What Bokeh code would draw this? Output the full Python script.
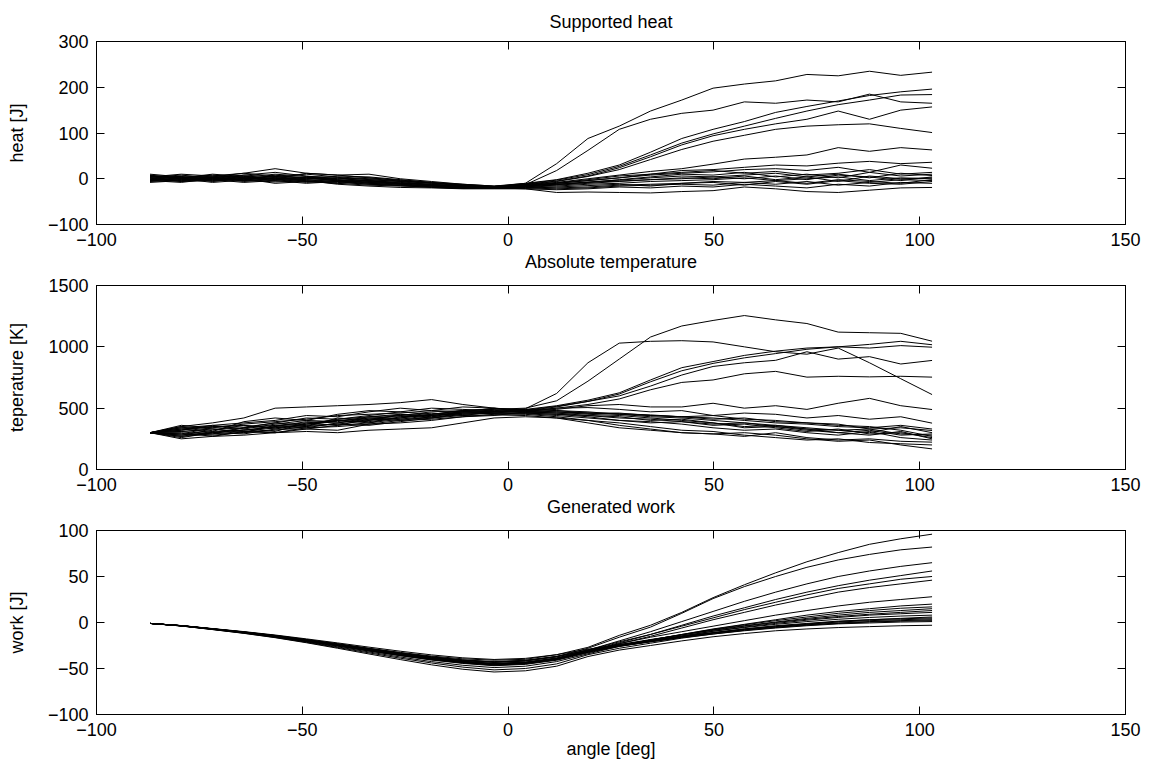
from bokeh.plotting import figure
from bokeh.models import LinearAxis, Range1d, FixedTicker, Title
from bokeh.layouts import column
from bokeh.embed import file_html
from bokeh.resources import INLINE

# ---------------- data ----------------
angle = [-87.0, -79.4, -71.8, -64.2, -56.6, -49.0, -41.4, -33.8, -26.2, -18.6, -11.0, -3.4,
         4.2, 11.8, 19.4, 27.0, 34.6, 42.2, 49.8, 57.4, 65.0, 72.6, 80.2, 87.8, 95.4, 103.0]

x_ticks = [-100, -50, 0, 50, 100, 150]
heat_ticks = [-100, 0, 100, 200, 300]
temp_ticks = [0, 500, 1000, 1500]
work_ticks = [-100, -50, 0, 50, 100]
minus_labels = {-100: "\u2212100", -50: "\u221250"}

heat_01 = [2, 5, -3, 8, 4, 0, -2, -6, -10, -14, -15, -17, -10, 33, 88, 115, 148, 172, 198, 207, 214, 228, 225, 235, 226, 233]
heat_02 = [-4, 0, 6, 3, 10, 5, 3, -2, -6, -10, -14, -18, -13, 18, 62, 108, 130, 143, 150, 168, 165, 172, 168, 185, 168, 165]
heat_03 = [6, 2, 10, 5, 0, 12, 8, 2, -3, -8, -12, -16, -10, -2, 12, 30, 58, 88, 108, 125, 145, 158, 170, 182, 190, 196]
heat_04 = [-2, 4, -6, 0, 5, 2, -5, -8, -12, -15, -17, -18, -11, -3, 9, 27, 52, 78, 98, 115, 132, 148, 162, 172, 183, 184]
heat_05 = [8, 0, 4, 12, 6, 10, 4, 0, -5, -9, -13, -17, -12, -5, 6, 24, 48, 74, 94, 108, 120, 130, 148, 130, 150, 157]
heat_06 = [0, -6, 2, -4, 8, 0, 6, 4, -2, -8, -14, -19, -13, -6, 5, 20, 42, 64, 82, 95, 108, 115, 118, 120, 110, 101]
heat_07 = [4, 10, 6, 12, 22, 12, 8, 10, 0, -6, -12, -16, -13, -8, 0, 8, 16, 22, 32, 43, 47, 52, 68, 60, 68, 63]
heat_08 = [-6, -2, 3, 8, 14, 6, 0, 2, -4, -10, -15, -17, -14, -9, -2, 6, 10, 18, 20, 25, 30, 28, 34, 38, 33, 36]
heat_09 = [10, 4, 0, -2, 3, -6, -10, -4, -12, -16, -18, -20, -15, -10, -4, 2, 8, 12, 15, 20, 22, 18, 25, 14, 30, 23]
heat_10 = [-3, 2, 8, 2, 6, 3, 0, -4, -8, -12, -16, -18, -16, -10, -4, 2, 10, 14, 18, 12, 16, 8, 12, 20, 10, 14]
heat_11 = [5, -2, 0, 4, 1, -3, -6, -10, -12, -18, -20, -21, -18, -13, -8, -2, 4, 10, 8, 14, 4, 10, 2, 14, 6, 10]
heat_12 = [-8, -4, -2, -8, -4, -10, -6, -12, -14, -16, -19, -20, -16, -12, -7, -3, 2, 6, 4, 8, 12, 4, 10, 2, 12, 7]
heat_13 = [3, 8, 1, 6, -2, 2, -4, -8, -10, -14, -17, -19, -17, -14, -10, -6, -2, 0, 4, 0, 6, -2, 8, 4, -4, 4]
heat_14 = [-5, 0, -8, -3, -7, -5, -10, -14, -16, -18, -21, -19, -15, -12, -8, -5, -2, 2, 0, 6, -2, 4, -6, 6, 0, 2]
heat_15 = [1, -4, 3, -1, 2, -2, -6, -4, -9, -13, -16, -18, -18, -16, -12, -10, -6, -4, -2, 2, -4, 0, 4, -4, 2, 0]
heat_16 = [7, 3, -2, 2, -5, -1, 2, -6, -10, -12, -18, -20, -19, -20, -18, -14, -12, -10, -6, -8, -4, -10, -2, -6, -10, -2]
heat_17 = [-2, 6, 4, -4, 0, -8, -4, -2, -6, -14, -17, -17, -20, -22, -20, -16, -14, -12, -14, -8, -12, -6, -14, -8, -2, -4]
heat_18 = [2, -6, -4, 1, -3, 4, -2, -10, -14, -16, -20, -21, -21, -18, -15, -12, -16, -10, -8, -14, -6, -12, -4, -10, -12, -6]
heat_19 = [-4, -8, 0, -6, -2, -4, -12, -16, -19, -20, -22, -22, -22, -24, -22, -18, -20, -16, -18, -12, -16, -20, -12, -16, -8, -10]
heat_20 = [6, 0, -5, 0, -10, -6, -8, -12, -15, -19, -21, -20, -22, -30, -29, -30, -31, -28, -26, -18, -22, -28, -30, -25, -20, -19]

temp_01 = [300, 330, 350, 345, 380, 420, 410, 440, 470, 450, 480, 490, 500, 560, 720, 900, 1080, 1170, 1215, 1255, 1220, 1190, 1120, 1115, 1110, 1046]
temp_02 = [300, 280, 320, 360, 330, 370, 400, 380, 430, 460, 440, 470, 495, 620, 870, 1030, 1045, 1050, 1040, 1000, 960, 940, 990, 870, 740, 611]
temp_03 = [300, 340, 310, 390, 420, 400, 450, 480, 470, 500, 490, 480, 490, 520, 565, 625, 730, 830, 880, 930, 965, 990, 1000, 1020, 1045, 1017]
temp_04 = [300, 260, 300, 320, 350, 390, 380, 420, 410, 440, 470, 460, 480, 510, 555, 615, 715, 805, 865, 910, 945, 980, 1000, 990, 1010, 997]
temp_05 = [300, 350, 330, 300, 360, 350, 420, 400, 450, 430, 470, 500, 485, 515, 555, 600, 680, 770, 840, 870, 890, 960, 900, 920, 860, 889]
temp_06 = [300, 290, 340, 330, 310, 380, 360, 410, 440, 420, 460, 470, 470, 500, 530, 575, 650, 710, 730, 780, 800, 753, 760, 755, 760, 753]
temp_07 = [300, 320, 360, 380, 400, 440, 430, 470, 500, 480, 510, 500, 480, 490, 520, 530, 510, 510, 540, 500, 520, 490, 540, 580, 520, 489]
temp_08 = [300, 310, 290, 340, 380, 360, 400, 390, 420, 450, 480, 470, 480, 500, 505, 490, 470, 480, 440, 460, 450, 420, 440, 410, 430, 378]
temp_09 = [300, 270, 290, 310, 300, 330, 320, 370, 380, 400, 430, 440, 470, 480, 470, 450, 440, 430, 410, 420, 390, 380, 370, 330, 340, 318]
temp_10 = [300, 330, 300, 340, 360, 380, 400, 420, 430, 440, 460, 470, 470, 460, 440, 430, 400, 410, 380, 350, 360, 330, 300, 320, 280, 290]
temp_11 = [300, 270, 310, 320, 350, 340, 380, 410, 400, 430, 450, 460, 460, 450, 430, 400, 380, 390, 360, 370, 340, 310, 330, 290, 300, 260]
temp_12 = [300, 340, 360, 330, 370, 400, 390, 430, 450, 440, 460, 455, 450, 430, 400, 360, 330, 300, 290, 270, 300, 260, 240, 250, 230, 223]
temp_13 = [300, 290, 280, 300, 320, 350, 370, 360, 390, 420, 440, 445, 440, 420, 380, 340, 320, 300, 290, 300, 280, 250, 230, 240, 200, 168]
temp_14 = [300, 360, 340, 370, 390, 410, 440, 450, 460, 480, 470, 485, 480, 470, 450, 440, 420, 400, 380, 340, 350, 320, 300, 280, 310, 250]
temp_15 = [300, 310, 330, 310, 340, 360, 370, 400, 420, 450, 470, 475, 470, 460, 460, 450, 430, 420, 400, 380, 360, 340, 320, 330, 290, 280]
temp_16 = [300, 320, 350, 360, 340, 370, 410, 430, 440, 470, 480, 495, 490, 480, 460, 460, 440, 430, 420, 400, 380, 370, 350, 340, 360, 330]
temp_17 = [300, 280, 300, 290, 330, 330, 360, 380, 410, 420, 450, 460, 460, 450, 440, 420, 410, 390, 370, 380, 350, 330, 320, 300, 350, 300]
temp_18 = [300, 300, 270, 310, 300, 340, 350, 370, 400, 410, 430, 450, 455, 440, 420, 400, 390, 370, 340, 320, 330, 300, 280, 310, 260, 240]
temp_19 = [300, 250, 270, 280, 300, 310, 300, 320, 330, 340, 380, 420, 430, 420, 400, 380, 350, 320, 310, 280, 260, 240, 250, 220, 210, 200]
temp_20 = [300, 350, 380, 420, 500, 510, 520, 530, 545, 570, 530, 500, 465, 470, 460, 455, 445, 430, 440, 410, 400, 380, 360, 350, 320, 270]

work_01 = [-1, -3.4, -6.8, -10.2, -14, -18.5, -23, -28, -32.5, -36.5, -39.5, -41, -40, -35, -27, -14, -3, 11, 27, 41, 54, 66, 76, 85, 91, 96]
work_02 = [-1, -3.5, -7, -10.5, -14.5, -19, -24, -29, -34, -38, -41.5, -43.5, -42, -37, -28, -16, -5, 10, 26, 39, 50, 60, 68, 74, 79, 82]
work_03 = [-1, -3.6, -7.2, -11, -15, -19.5, -24.5, -29.5, -34.5, -39, -42.5, -45, -43.5, -39, -30, -20, -10, 1, 12, 23, 33, 42, 50, 56, 61, 65]
work_04 = [-1, -3.5, -7, -10.8, -15, -19.5, -24.5, -29.5, -34.5, -39, -42.5, -45, -43.5, -39, -31, -22, -13, -3, 7, 16, 25, 33, 40, 46, 51, 56]
work_05 = [-1, -3.4, -6.9, -10.4, -14.3, -18.8, -23.5, -28.5, -33.5, -37.5, -41, -43, -41.5, -37.5, -30, -21, -13, -4, 5, 14, 22, 30, 37, 42, 47, 50]
work_06 = [-1, -3.6, -7.3, -11.2, -15.5, -20.5, -25.5, -31, -36, -40.5, -44, -46.5, -45, -40.5, -32, -23, -15, -6, 3, 11, 19, 26, 33, 38, 42, 46]
work_07 = [-1, -3.5, -7, -10.6, -14.7, -19.3, -24.3, -29.3, -34.3, -38.7, -42.2, -44.5, -43, -38.5, -31, -23, -16, -10, -4, 2, 8, 13, 18, 22, 25, 28]
work_08 = [-1, -3.6, -7.2, -11, -15.2, -20, -25, -30.5, -35.5, -40, -43.5, -46, -44.5, -40, -32, -25, -19, -13, -7, -2, 3, 8, 12, 15, 18, 20]
work_09 = [-1, -3.5, -7, -10.6, -14.8, -19.5, -24.5, -29.5, -34.5, -39, -42.5, -45, -43.5, -39.5, -32, -25, -19, -13, -7.5, -2.5, 2, 6, 10, 13, 15.5, 17]
work_10 = [-1, -3.5, -7.1, -10.8, -15, -19.8, -24.8, -30, -35, -39.5, -43, -45.5, -44, -39.5, -32, -25, -19, -13.5, -8, -3.5, 0.5, 4.5, 8, 11, 13, 15]
work_11 = [-1, -3.4, -6.9, -10.4, -14.4, -19, -23.8, -28.8, -33.5, -37.8, -41, -43, -41.5, -37, -30, -24, -18.5, -13.5, -8.5, -4, 0, 3.5, 6.5, 9, 11, 13]
work_12 = [-1, -3.7, -7.4, -11.3, -15.8, -21, -26.5, -32, -37.5, -42.5, -46.5, -49, -47.5, -42.5, -34, -26, -20.5, -15, -9.5, -5, -1, 2.5, 5.5, 8, 9.5, 11]
work_13 = [-1, -3.5, -7, -10.7, -14.9, -19.7, -24.8, -29.8, -34.8, -39.2, -42.8, -45.2, -43.7, -39.2, -31.5, -25, -19.5, -14.5, -9.5, -5.5, -2, 1, 3.5, 5.5, 7, 8]
work_14 = [-1, -3.3, -6.6, -9.9, -13.6, -17.8, -22.2, -26.8, -31.2, -35.2, -38.4, -40.2, -39, -35, -29, -24, -19.5, -15, -11, -7, -4, -1.5, 1, 3, 4.5, 6]
work_15 = [-1, -3.5, -7.1, -10.9, -15.2, -20, -25.2, -30.4, -35.5, -40, -43.6, -46, -44.5, -40, -32, -25.5, -20.5, -15.5, -11, -7, -3.5, -1, 1.5, 3, 4, 5]
work_16 = [-1, -3.6, -7.2, -11, -15.3, -20.3, -25.5, -30.8, -36, -40.8, -44.5, -47, -45.5, -41, -33, -26, -21, -16, -11.5, -7.5, -4.5, -2, 0.5, 2, 3, 4]
work_17 = [-1, -3.4, -6.8, -10.3, -14.2, -18.7, -23.5, -28.3, -33, -37.2, -40.6, -42.5, -41, -36.8, -30, -24.5, -20, -15.5, -11.5, -8, -5, -2.5, -0.5, 1, 2, 3]
work_18 = [-1, -3.8, -7.6, -11.6, -16.2, -21.5, -27.2, -33, -38.8, -44, -48.5, -51.5, -50, -45, -35, -28, -22.5, -17, -12.5, -8.5, -5.5, -3, -1, 0.5, 1.5, 2]
work_19 = [-1, -3.5, -7.1, -10.8, -15, -19.8, -24.9, -30, -35, -39.6, -43.2, -45.6, -44, -39.5, -31.5, -25.5, -21, -16.5, -12.5, -9, -6, -3.5, -1.5, -0.5, 0.5, 1]
work_20 = [-1, -3.8, -7.7, -11.8, -16.5, -22, -28, -34.2, -40.3, -46, -50.8, -53.8, -52.5, -47.5, -37, -30, -25, -20, -15.5, -12, -9, -7, -5.5, -4.5, -3.5, -3]

heat_runs = [heat_01, heat_02, heat_03, heat_04, heat_05, heat_06, heat_07, heat_08, heat_09, heat_10,
             heat_11, heat_12, heat_13, heat_14, heat_15, heat_16, heat_17, heat_18, heat_19, heat_20]
temp_runs = [temp_01, temp_02, temp_03, temp_04, temp_05, temp_06, temp_07, temp_08, temp_09, temp_10,
             temp_11, temp_12, temp_13, temp_14, temp_15, temp_16, temp_17, temp_18, temp_19, temp_20]
work_runs = [work_01, work_02, work_03, work_04, work_05, work_06, work_07, work_08, work_09, work_10,
             work_11, work_12, work_13, work_14, work_15, work_16, work_17, work_18, work_19, work_20]

# ---------------- styling ----------------
FONT = "Liberation Sans"
FS = "18px"
FRAME_H = 184


def tick_style(ax, ticks, show_labels, standoff):
    ax.ticker = FixedTicker(ticks=ticks)
    ax.major_tick_in = 8
    ax.major_tick_out = 0
    ax.minor_tick_in = 0
    ax.minor_tick_out = 0
    ax.major_tick_line_color = "black"
    ax.axis_line_color = "black"
    if show_labels:
        ax.major_label_text_font = FONT
        ax.major_label_text_font_size = FS
        ax.major_label_text_color = "black"
        ax.major_label_standoff = standoff
        ax.major_label_overrides = {k: v for k, v in minus_labels.items() if k in ticks}
    else:
        ax.major_label_overrides = {k: "" for k in ticks}
        ax.major_label_text_color = None
        ax.major_label_text_font_size = "1px"
        ax.major_label_standoff = 0


def make_title(text, standoff):
    return Title(text=text, align="center", text_font=FONT, text_font_size=FS,
                 text_font_style="normal", text_color="black", standoff=standoff)


def panel(ylabel, ylo, yhi, yticks, runs, top, bottom, top_title=None, below_title=None, xlabel=None):
    p = figure(width=1151, height=top + FRAME_H + bottom,
               x_range=Range1d(-100, 150), y_range=Range1d(ylo, yhi),
               output_backend="svg", toolbar_location=None,
               min_border_left=96, min_border_right=26,
               min_border_top=top, min_border_bottom=bottom)
    p.grid.visible = False
    p.outline_line_color = "black"
    p.outline_line_width = 1
    p.background_fill_color = "white"
    p.border_fill_color = "white"

    for r in runs:
        p.line(angle, r, line_color="black", line_width=1)

    tick_style(p.xaxis[0], x_ticks, True, 8)
    tick_style(p.yaxis[0], yticks, True, 8)
    p.yaxis.axis_label = ylabel
    p.yaxis.axis_label_text_font = FONT
    p.yaxis.axis_label_text_font_size = FS
    p.yaxis.axis_label_text_font_style = "normal"
    p.yaxis.axis_label_text_color = "black"
    p.yaxis.axis_label_standoff = 18
    if xlabel:
        p.xaxis.axis_label = xlabel
        p.xaxis.axis_label_text_font = FONT
        p.xaxis.axis_label_text_font_size = FS
        p.xaxis.axis_label_text_font_style = "normal"
        p.xaxis.axis_label_text_color = "black"
        p.xaxis.axis_label_standoff = 0

    top_ax = LinearAxis()
    tick_style(top_ax, x_ticks, False, 0)
    p.add_layout(top_ax, "above")
    right_ax = LinearAxis()
    tick_style(right_ax, yticks, False, 0)
    p.add_layout(right_ax, "right")

    if top_title:
        p.add_layout(make_title(top_title, 19), "above")
    if below_title:
        p.add_layout(make_title(below_title, 2), "below")
    return p


p1 = panel("heat [J]", -100, 300, heat_ticks, heat_runs, 40, 50,
           top_title="Supported heat", below_title="Absolute temperature")
p2 = panel("teperature [K]", 0, 1500, temp_ticks, temp_runs, 11, 50,
           below_title="Generated work")
p3 = panel("work [J]", -100, 100, work_ticks, work_runs, 11, 55, xlabel="angle [deg]")

layout = column(p1, p2, p3, spacing=0)
open("out.html", "w").write(file_html(layout, INLINE))
